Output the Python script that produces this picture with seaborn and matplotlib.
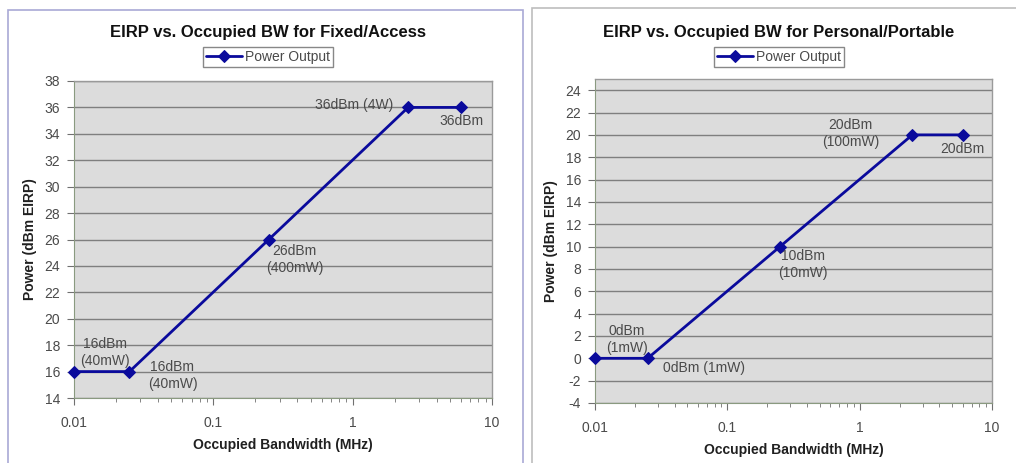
"""
EIRP vs. occupied bandwidth, two Excel-style panels side by side.
"""

import matplotlib
matplotlib.use("Agg")
import matplotlib.pyplot as plt
import matplotlib.ticker as mticker
from matplotlib.patches import Rectangle
import seaborn as sns

# data
bandwidth = [0.01, 0.025, 0.25, 2.5, 6]
fixed_power = [16, 16, 26, 36, 36]
portable_power = [0, 0, 10, 20, 20]

fixed_labels = ["16dBm\n(40mW)", "16dBm\n(40mW)", "26dBm\n(400mW)", "36dBm (4W)", "36dBm"]
portable_labels = ["0dBm\n(1mW)", "0dBm (1mW)", "10dBm\n(10mW)", "20dBm\n(100mW)", "20dBm"]

# label offsets in pixels from each point
fixed_offsets = [(31, 19), (43, -4), (26, -20), (-54, 2), (0, -14)]
portable_offsets = [(32, 19), (56, -10), (23, -18), (-62, 1), (0, -14)]

sns.set_style("ticks")
plt.rcParams['font.family'] = ['Liberation Sans', 'DejaVu Sans']
plt.rcParams['axes.unicode_minus'] = False

W, H = 1016, 463
fig = plt.figure(figsize=(W / 100, H / 100), dpi=100)
fig.patch.set_facecolor("white")

LINE = "#0a0a9c"
GRID = "#7f7f7f"
TEXT = "#4a4a4a"


def fx(px):
    return px / W


def fy(py):
    return 1 - py / H


# panel frames
fig.patches.append(Rectangle((fx(8), fy(470)), fx(523 - 8), fy(10) - fy(470),
                             transform=fig.transFigure, fill=False,
                             edgecolor="#a9a9d6", linewidth=1.2))
fig.patches.append(Rectangle((fx(532), fy(470)), fx(1030 - 532), fy(8) - fy(470),
                             transform=fig.transFigure, fill=False,
                             edgecolor="#bdbdbd", linewidth=1.2))


def draw_panel(rect, power, labels, offsets, ylim, yticks, title, center_px):
    ax = fig.add_axes(rect)
    ax.set_facecolor("#dcdcdc")
    sns.lineplot(x=bandwidth, y=power, ax=ax, color=LINE, marker="D",
                 markersize=6.5, markeredgecolor=LINE, linewidth=2,
                 label="Power Output", clip_on=False, zorder=5)
    ax.set_xscale("log")
    ax.set_xlim(0.01, 10)
    ax.set_ylim(*ylim)
    ax.set_yticks(yticks)
    ax.xaxis.set_major_formatter(mticker.FuncFormatter(lambda v, p: f"{v:g}"))
    ax.xaxis.set_minor_locator(mticker.LogLocator(subs=range(2, 10)))
    ax.xaxis.set_minor_formatter(mticker.NullFormatter())
    ax.yaxis.grid(True, color=GRID, linewidth=1)
    ax.xaxis.grid(False)
    ax.set_axisbelow(True)
    for side in ["top", "right"]:
        ax.spines[side].set_color("#9a9a9a")
        ax.spines[side].set_linewidth(1)
    ax.spines["left"].set_color("#8a9a80")
    ax.spines["bottom"].set_color("#8a9a80")
    ax.tick_params(axis="both", which="major", direction="out", length=5,
                   color="#707070", labelsize=10, labelcolor=TEXT, pad=5)
    ax.tick_params(axis="x", which="minor", direction="out", length=3,
                   color="#707070")
    ax.tick_params(axis="x", which="major", pad=8)

    for x, y, lab, (dx, dy) in zip(bandwidth, power, labels, offsets):
        ax.annotate(lab, xy=(x, y), xytext=(dx, dy), textcoords="offset pixels",
                    ha="center", va="center", multialignment="center",
                    fontsize=10, color=TEXT, linespacing=1.25)

    ax.set_xlabel("Occupied Bandwidth (MHz)", fontsize=10, fontweight="bold",
                  color="#202020", labelpad=6)
    ax.set_ylabel("Power (dBm EIRP)", fontsize=10, fontweight="bold",
                  color="#202020", labelpad=5)

    fig.text(fx(center_px), fy(32), title, ha="center", va="center",
             fontsize=12, fontweight="bold", color="#111111")
    leg = ax.legend(loc="center", bbox_to_anchor=(fx(center_px), fy(57)),
                    bbox_transform=fig.transFigure, frameon=True, fancybox=False,
                    fontsize=10, handlelength=2.6, borderpad=0.25,
                    handletextpad=0.2, borderaxespad=0)
    leg.get_frame().set_edgecolor("#6a6a6a")
    leg.get_frame().set_linewidth(1)
    for t in leg.get_texts():
        t.set_color(TEXT)
    return ax


draw_panel([fx(74), fy(398), fx(492 - 74), fy(81) - fy(398)],
           fixed_power, fixed_labels, fixed_offsets, (14, 38), range(14, 39, 2),
           "EIRP vs. Occupied BW for Fixed/Access", 268)

draw_panel([fx(595), fy(403), fx(992 - 595), fy(79) - fy(403)],
           portable_power, portable_labels, portable_offsets, (-4, 25),
           range(-4, 25, 2), "EIRP vs. Occupied BW for Personal/Portable", 779)

plt.savefig("out.png", dpi=100)
plt.close()
